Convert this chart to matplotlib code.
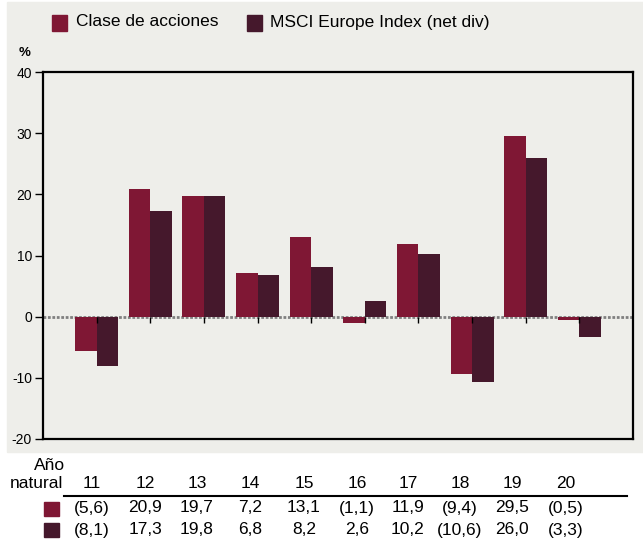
import matplotlib.pyplot as plt
import numpy as np
from matplotlib.patches import Rectangle

plt.rcParams["font.family"] = ["Liberation Sans", "DejaVu Sans"]
plt.rcParams["axes.unicode_minus"] = False

years = ["11", "12", "13", "14", "15", "16", "17", "18", "19", "20"]
clase = [-5.6, 20.9, 19.7, 7.2, 13.1, -1.1, 11.9, -9.4, 29.5, -0.5]
msci = [-8.1, 17.3, 19.8, 6.8, 8.2, 2.6, 10.2, -10.6, 26.0, -3.3]
clase_txt = ["(5,6)", "20,9", "19,7", "7,2", "13,1", "(1,1)", "11,9", "(9,4)", "29,5", "(0,5)"]
msci_txt = ["(8,1)", "17,3", "19,8", "6,8", "8,2", "2,6", "10,2", "(10,6)", "26,0", "(3,3)"]
names = ["Clase de acciones", "MSCI Europe Index (net div)"]
colors = ["#7F1734", "#45182C"]
bg = "#EEEEEA"

W, H = 643, 542
fig = plt.figure(figsize=(W / 100, H / 100), dpi=100)
fig.patches.append(Rectangle((7 / W, 1 - 452 / H), 1, 450 / H,
                             transform=fig.transFigure, color=bg, zorder=-10))

ax = fig.add_axes([43 / W, 1 - 439 / H, 590 / W, 367 / H])
ax.set_facecolor(bg)

x = np.arange(1, len(years) + 1)
w = 0.4
ax.bar(x - w / 2, clase, w, color=colors[0], zorder=2)
ax.bar(x + w / 2, msci, w, color=colors[1], zorder=2)
ax.axhline(0, color="#808080", lw=2, ls=(0, (1, 0.6)), zorder=1)
ax.vlines(x, -1, 0, color="black", lw=1, zorder=3)

ax.set_xlim(0, 11)
ax.set_ylim(-20, 40)
ax.set_yticks([-20, -10, 0, 10, 20, 30, 40])
ax.set_xticks([])
ax.tick_params(axis="y", direction="out", length=6, width=1, labelsize=10, pad=2)
for s in ax.spines.values():
    s.set_linewidth(1.6)
    s.set_color("black")

fig.text(25 / W, 1 - 53 / H, "%", fontsize=9.5, fontweight="bold", ha="center", va="center")

# legend
for i, (lx, tx) in enumerate([(52, 76), (247, 270)]):
    fig.patches.append(Rectangle((lx / W, 1 - 31 / H), 15 / W, 16 / H,
                                 transform=fig.transFigure, color=colors[i]))
    fig.text(tx / W, 1 - 22 / H, names[i], fontsize=12.5, ha="left", va="center")

# table
col_x = [92, 145, 197, 250, 304, 357, 408, 460, 512, 566]
fig.text(50 / W, 1 - 465 / H, "Año", fontsize=12.5, ha="center", va="center")
fig.text(63 / W, 1 - 484 / H, "natural", fontsize=12.5, ha="right", va="center")
for cx, yr, a, b in zip(col_x, years, clase_txt, msci_txt):
    fig.text(cx / W, 1 - 484 / H, yr, fontsize=12.5, ha="center", va="center")
    fig.text(cx / W, 1 - 508 / H, a, fontsize=12.5, ha="center", va="center")
    fig.text(cx / W, 1 - 530 / H, b, fontsize=12.5, ha="center", va="center")
fig.add_artist(plt.Line2D([64 / W, 627 / W], [1 - 496 / H] * 2, color="black", lw=1.5))
for i, yy in enumerate([508.5, 529.5]):
    fig.patches.append(Rectangle((44 / W, 1 - (yy + 7) / H), 15 / W, 14 / H,
                                 transform=fig.transFigure, color=colors[i]))

fig.savefig("out.png", dpi=100)
